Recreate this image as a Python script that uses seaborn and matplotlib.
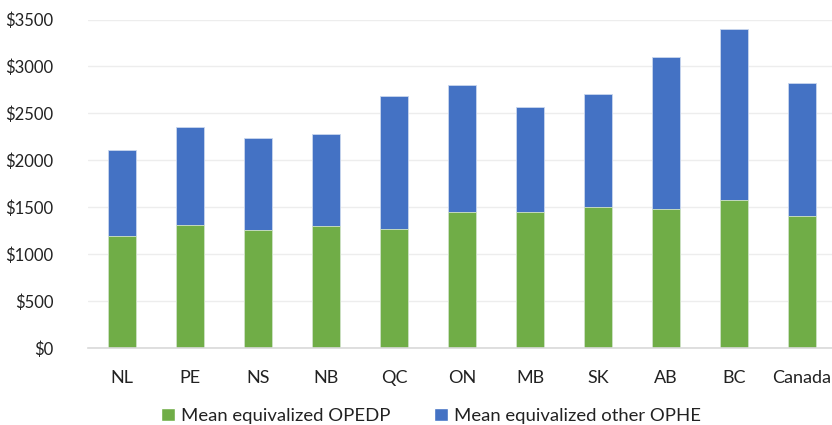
import matplotlib
matplotlib.use("Agg")
import matplotlib.pyplot as plt
from matplotlib.patches import Patch
from matplotlib.ticker import FuncFormatter
import seaborn as sns
import pandas as pd

# values
provinces = ["NL", "PE", "NS", "NB", "QC", "ON", "MB", "SK", "AB", "BC", "Canada"]
mean_opedp = [1190, 1314, 1257, 1303, 1264, 1445, 1449, 1506, 1477, 1573, 1406]
mean_other_ophe = [919, 1037, 984, 977, 1417, 1353, 1115, 1197, 1627, 1822, 1421]

green = "#70AD47"
blue = "#4472C4"

df = pd.DataFrame({"province": provinces, "opedp": mean_opedp, "other": mean_other_ophe})
df["total"] = df["opedp"] + df["other"]

sns.set_theme(style="white")
plt.rcParams["font.family"] = ["Lato", "DejaVu Sans"]

fig = plt.figure(figsize=(8.32, 4.25), dpi=100)
ax = fig.add_axes([88 / 832, 77 / 425, 748 / 832, 328.5 / 425])

# stacked bars: total in blue first, then green on top of it
sns.barplot(data=df, x="province", y="total", color=blue, width=0.4,
            edgecolor="#C9D6EE", linewidth=0.6, saturation=1, ax=ax, zorder=2)
sns.barplot(data=df, x="province", y="opedp", color=green, width=0.4,
            edgecolor="#D4E6C8", linewidth=0.6, saturation=1, ax=ax, zorder=3)

ax.set_ylim(0, 3500)
ax.set_xlim(-0.5, len(provinces) - 0.5)
ax.set_yticks(range(0, 3501, 500))
ax.yaxis.set_major_formatter(FuncFormatter(lambda v, _: f"${v:.0f}"))
ax.grid(axis="y", color="#EDEDED", linewidth=1, zorder=0)
ax.set_axisbelow(True)
ax.set_xlabel("")
ax.set_ylabel("")

for side in ["top", "right", "left"]:
    ax.spines[side].set_visible(False)
ax.spines["bottom"].set_color("#D9D9D9")
ax.spines["bottom"].set_linewidth(1.2)
ax.spines["bottom"].set_zorder(4)

ax.tick_params(axis="both", length=0, colors="#222222")
ax.tick_params(axis="y", pad=25, labelsize=12)
ax.tick_params(axis="x", pad=16, labelsize=13)

legend_handles = [
    Patch(facecolor=green, label="Mean equivalized OPEDP"),
    Patch(facecolor=blue, label="Mean equivalized other OPHE"),
]
fig.legend(handles=legend_handles, loc="center", bbox_to_anchor=(431 / 832, 1 - 416 / 425),
           ncol=2, frameon=False, fontsize=13.3, handlelength=0.75, handleheight=0.75,
           handletextpad=0.3, columnspacing=2.4, labelcolor="#222222")

fig.savefig("out.png", dpi=100)
plt.close(fig)
